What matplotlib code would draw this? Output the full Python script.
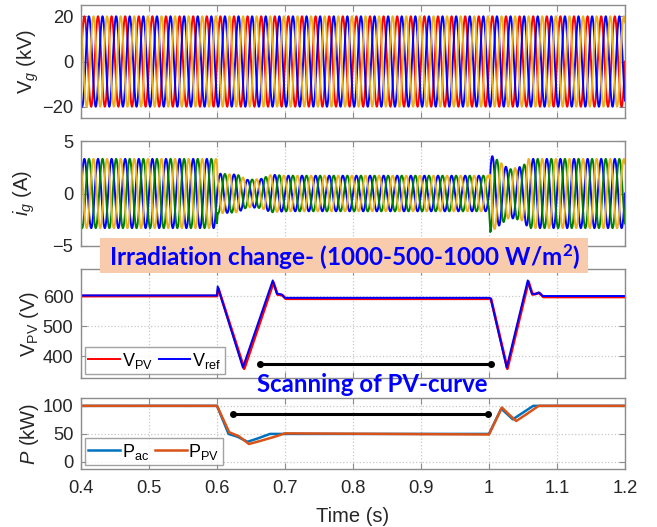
import numpy as np
import matplotlib
matplotlib.use("Agg")
import matplotlib.pyplot as plt
from matplotlib.patches import Rectangle
from matplotlib.ticker import FuncFormatter

plt.rcParams['font.family'] = ['Liberation Sans', 'DejaVu Sans']
plt.rcParams['mathtext.fontset'] = 'custom'
plt.rcParams['mathtext.rm'] = 'Liberation Sans'
plt.rcParams['mathtext.it'] = 'Liberation Sans:italic'

# ---------------- data ----------------
f_grid = 50.0                      # Hz
t_start, t_end = 0.4, 1.2
vg_amp = 20.0                      # kV
# grid current amplitude envelope (A)
ig_env_t = [0.4, 0.6, 0.601, 0.63, 0.645, 0.665, 0.68, 0.70, 1.0, 1.002, 1.03, 1.05, 1.058, 1.2]
ig_env_a = [3.3, 3.3, 1.9, 1.8, 1.3, 1.4, 1.8, 1.7, 1.7, 3.7, 2.3, 2.6, 3.3, 3.3]

# PV voltage (V)
vref_t = [0.4, 0.6, 0.601, 0.638, 0.682, 0.688, 0.695, 0.70, 1.0, 1.0025, 1.026, 1.057, 1.063, 1.068, 1.073, 1.079, 1.2]
vref_v = [602, 602, 632, 362, 652, 608, 605, 594, 594, 592, 362, 652, 608, 606, 612, 600, 600]
vpv_t = [0.4, 0.6, 0.602, 0.640, 0.683, 0.689, 0.696, 0.701, 1.0, 1.003, 1.027, 1.058, 1.064, 1.074, 1.080, 1.2]
vpv_v = [600, 600, 625, 358, 645, 605, 603, 591, 591, 590, 358, 648, 605, 610, 597, 597]

# Power (kW)
pac_t = [0.4, 0.6, 0.617, 0.63, 0.645, 0.66, 0.678, 0.70, 1.0, 1.018, 1.027, 1.035, 1.05, 1.065, 1.2]
pac_v = [100, 100, 50, 45, 36, 42, 50, 50, 50, 95, 85, 76, 88, 100, 100]
ppv_t = [0.4, 0.6, 0.618, 0.632, 0.647, 0.665, 0.685, 0.70, 1.0, 1.019, 1.03, 1.04, 1.055, 1.073, 1.2]
ppv_v = [100, 100, 53, 46, 32, 38, 45, 51, 49, 97, 84, 73, 85, 100, 100]

# scanning markers
scan_v_t = [0.663, 1.003]
scan_v_y = [375, 375]
scan_p_t = [0.624, 0.999]
scan_p_y = [86, 86]

xticks = [0.4, 0.5, 0.6, 0.7, 0.8, 0.9, 1.0, 1.1, 1.2]

# ---------------- figure ----------------
W, H = 657, 527
fig = plt.figure(figsize=(W/100, H/100), dpi=100)

def ax_px(x0, y0, x1, y1):
    return fig.add_axes([x0/W, 1-y1/H, (x1-x0)/W, (y1-y0)/H])

ax1 = ax_px(81, 5, 625, 118)
ax2 = ax_px(81, 141, 625, 246)
ax3 = ax_px(81, 269, 625, 378)
ax4 = ax_px(81, 398, 625, 469)

spine_c = '#8c8c8c'
txt_c = '#262626'
for ax in (ax1, ax2, ax3, ax4):
    ax.set_xlim(t_start, t_end)
    ax.set_xticks(xticks)
    for s in ax.spines.values():
        s.set_color(spine_c)
        s.set_linewidth(1.0)
    ax.tick_params(direction='in', top=True, right=True, colors=spine_c,
                   labelcolor=txt_c, labelsize=13.2, length=4, pad=5.5)
    ax.grid(True, axis='x', color='#c8c8c8', linestyle=':', linewidth=0.9)
for ax in (ax1, ax2, ax3):
    ax.set_xticklabels([])

t = np.linspace(t_start, t_end, 12000)
w = 2*np.pi*f_grid
ylab_kw = dict(fontsize=14.5, color=txt_c)

# Panel 1: grid voltage
for ph, c in zip([0, -2*np.pi/3, 2*np.pi/3], ['#FF0000', '#0000FF', '#EDB120']):
    ax1.plot(t, vg_amp*np.sin(w*t + ph), color=c, lw=1.4)
ax1.set_ylim(-25, 25)
ax1.set_yticks([-20, 0, 20])
ax1.set_ylabel(r'V$_{\mathit{g}}$ (kV)', labelpad=1, **ylab_kw)

# Panel 2: grid current
env = np.interp(t, ig_env_t, ig_env_a)
for ph, c in zip([0, -2*np.pi/3, 2*np.pi/3], ['#0000FF', '#008000', '#EDB120']):
    ax2.plot(t, env*np.sin(w*t + ph), color=c, lw=1.4)
ax2.set_ylim(-5, 5)
ax2.set_yticks([-5, 0, 5])
ax2.set_ylabel(r'$\mathit{i}_{\mathit{g}}$ (A)', labelpad=11, **ylab_kw)

leg_kw = dict(loc='lower left', ncol=2, fontsize=13, frameon=True, fancybox=False,
              edgecolor=spine_c, handlelength=1.75, handletextpad=0.1, columnspacing=0.35,
              borderpad=0.2, borderaxespad=0.2)

# Panel 3: PV voltage
ax3.plot(vpv_t, vpv_v, color='#FF0000', lw=2.0, label=r'V$_{\rm PV}$')
ax3.plot(vref_t, vref_v, color='#0000FF', lw=1.4, label=r'V$_{\rm ref}$')
ax3.plot(scan_v_t, scan_v_y, color='black', lw=2.2, marker='o', markersize=4)
ax3.set_ylim(327, 690)
ax3.set_yticks([400, 500, 600])
ax3.grid(True, axis='y', color='#c8c8c8', linestyle=':', linewidth=0.9)
ax3.set_ylabel(r'V$_{\rm PV}$ (V)', labelpad=1, **ylab_kw)
leg3 = ax3.legend(**leg_kw)
leg3.get_frame().set_linewidth(1.0)
for l in leg3.get_lines():
    l.set_linewidth(1.4)

# Panel 4: power
ax4.plot(pac_t, pac_v, color='#0072BD', lw=1.8, label=r'P$_{\rm ac}$')
ax4.plot(ppv_t, ppv_v, color='#D95319', lw=1.8, label=r'P$_{\rm PV}$')
ax4.plot(scan_p_t, scan_p_y, color='black', lw=2.2, marker='o', markersize=4)
ax4.set_ylim(-12.5, 114)
ax4.set_yticks([0, 50, 100])
ax4.grid(True, axis='y', color='#c8c8c8', linestyle=':', linewidth=0.9)
ax4.set_ylabel(r'$\mathit{P}$ (kW)', labelpad=1, **ylab_kw)
leg4 = ax4.legend(**leg_kw)
leg4.get_frame().set_linewidth(1.0)
ax4.xaxis.set_major_formatter(FuncFormatter(lambda v, p: f'{v:g}'))
ax4.tick_params(axis='x', pad=8)
ax4.set_xlabel('Time (s)', fontsize=14.5, color=txt_c, labelpad=7)

# Annotations
fig.patches.append(Rectangle((100/W, 1-273/H), 488/W, 35/H, transform=fig.transFigure,
                             facecolor='#F8CBAD', edgecolor='none', zorder=5))
fig.text(345/W, 1-257/H, r'Irradiation change- (1000-500-1000 W/m$\mathregular{^2}$)',
         fontsize=17.5, fontweight='bold', family='Lato', color='#0000FF',
         ha='center', va='center', zorder=6)
fig.text(372/W, 1-384/H, 'Scanning of PV-curve', fontsize=17.3, fontweight='bold',
         family='Lato', color='#0000FF', ha='center', va='center', zorder=6)

fig.savefig('out.png', dpi=100)
